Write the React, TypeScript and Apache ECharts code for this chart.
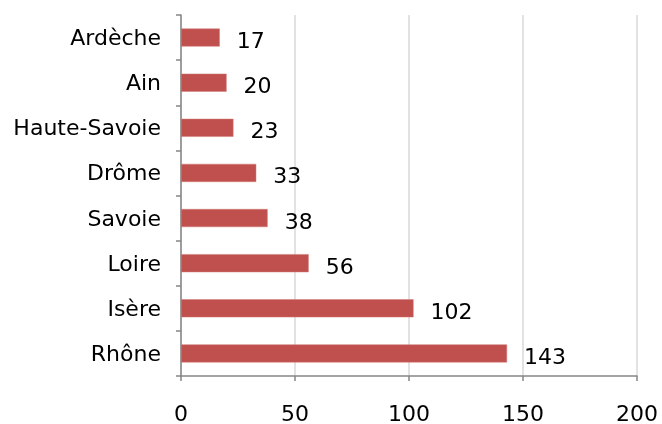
import React, { useEffect, useRef } from "react";
import * as echarts from "echarts";

const categories = ["Rhône", "Isère", "Loire", "Savoie", "Drôme", "Haute-Savoie", "Ain", "Ardèche"];
const values = [143, 102, 56, 38, 33, 23, 20, 17];
const xMin = 0;
const xMax = 200;
const xInterval = 50;

export default function App() {
  const ref = useRef<HTMLDivElement>(null);
  useEffect(() => {
    if (!ref.current) return;
    const chart = echarts.init(ref.current, undefined, { renderer: "svg" });
    const font = "'DejaVu Sans', Verdana, sans-serif";
    chart.setOption({
      animation: false,
      grid: { left: 181, right: 25, top: 15, bottom: 47, containLabel: false },
      xAxis: {
        type: "value",
        min: xMin,
        max: xMax,
        interval: xInterval,
        axisLine: { show: true, lineStyle: { color: "#868686", width: 1.5 } },
        axisTick: { show: true, length: 5, lineStyle: { color: "#868686", width: 1.5 } },
        axisLabel: { color: "#000", fontSize: 22, fontFamily: font, margin: 26 },
        splitLine: { show: true, lineStyle: { color: "#d9d9d9", width: 1.5 } },
      },
      yAxis: {
        type: "category",
        data: categories,
        axisLine: { show: true, lineStyle: { color: "#868686", width: 1.5 } },
        axisTick: { show: true, length: 5, alignWithLabel: false, lineStyle: { color: "#868686", width: 1.5 } },
        axisLabel: { color: "#000", fontSize: 22, fontFamily: font, margin: 20 },
        splitLine: { show: false },
      },
      series: [
        {
          type: "bar",
          data: values,
          barCategoryGap: "60%",
          itemStyle: { color: "#c0504d", borderColor: "#d07a78", borderWidth: 0.5 },
          label: {
            show: true,
            position: "right",
            distance: 17,
            offset: [0, 3],
            color: "#000",
            fontSize: 22,
            fontFamily: font,
          },
        },
      ],
    });
    return () => chart.dispose();
  }, []);
  return (
    <div
      ref={ref}
      style={{ position: "fixed", left: 0, top: 0, width: 662, height: 424, overflow: "hidden" }}
    />
  );
}
